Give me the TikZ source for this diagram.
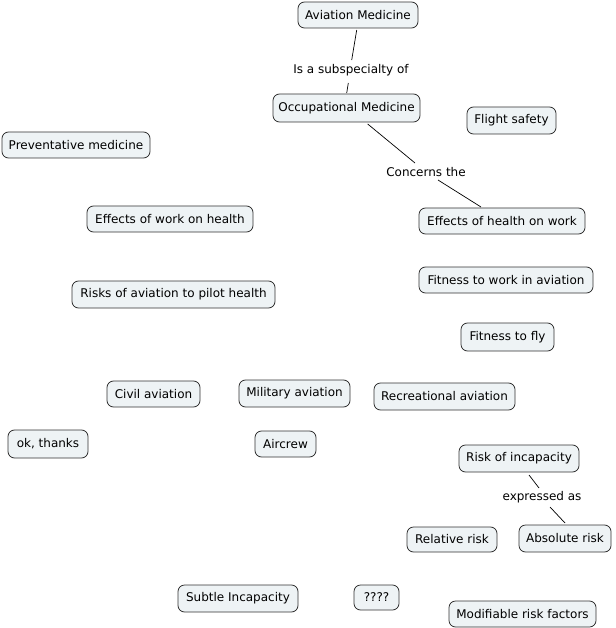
\documentclass[tikz,border=0pt]{standalone}
\usepackage{fontspec}
\setmainfont{DejaVu Sans}
\usetikzlibrary{calc}
\definecolor{boxfill}{RGB}{238,243,245}
\definecolor{boxline}{RGB}{50,50,50}
\tikzset{
  concept/.style={draw=boxline, fill=boxfill, line width=0.8pt, rounded corners=6.5pt,
    inner sep=0pt, align=center, font=\fontsize{12}{14}\selectfont},
  linklabel/.style={inner sep=0pt, font=\fontsize{12}{14}\selectfont},
  link/.style={draw=black, line width=0.7pt}
}
\newcommand{\cbox}[6]{\node[concept, minimum width=#4pt, minimum height=#5pt] (#1) at (#2,#3) {#6};}
\begin{document}
\begin{tikzpicture}[x=1pt,y=-1pt]
\useasboundingbox (0,0) rectangle (615,628);
\cbox{av}{358}{15}{120}{26}{Aviation Medicine}
\cbox{occ}{346.5}{108}{147}{28}{Occupational Medicine}
\cbox{fs}{511.5}{120.5}{89}{27}{Flight safety}
\cbox{prev}{76}{145}{148}{26}{Preventative medicine}
\cbox{ewh}{170}{219}{166}{26}{Effects of work on health}
\cbox{ehw}{502}{221}{166}{26}{Effects of health on work}
\cbox{risks}{173.5}{294.5}{203}{27}{Risks of aviation to pilot health}
\cbox{fwa}{506}{280}{174}{26}{Fitness to work in aviation}
\cbox{ftf}{507.5}{337}{93}{28}{Fitness to fly}
\cbox{civ}{153.5}{394}{93}{26}{Civil aviation}
\cbox{mil}{294.5}{393.5}{111}{27}{Military aviation}
\cbox{rec}{444.5}{396.5}{141}{27}{Recreational aviation}
\cbox{ok}{48}{444}{80}{28}{ok, thanks}
\cbox{air}{285.5}{444}{61}{26}{Aircrew}
\cbox{roi}{519}{458.5}{120}{27}{Risk of incapacity}
\cbox{rel}{452}{539.5}{90}{25}{Relative risk}
\cbox{abs}{565}{538.5}{92}{27}{Absolute risk}
\cbox{sub}{238}{598.5}{120}{27}{Subtle Incapacity}
\cbox{q}{376.5}{597.5}{45}{25}{????}
\cbox{mod}{522.5}{614}{147}{26}{Modifiable risk factors}

\node[linklabel] (l1) at (351,70) {Is a subspecialty of};
\node[linklabel] (l2) at (426,172) {Concerns the};
\node[linklabel] (l3) at (542,497) {expressed as};

\draw[link] ($(av)+(-1.3,15)$) -- ($(l1)+(0.7,-10)$);
\draw[link] ($(l1)+(-2.7,13)$) -- ($(occ)+(0.2,-15)$);
\draw[link] ($(occ)+(21.2,16)$) -- ($(l2)+(-11,-9)$);
\draw[link] ($(l2)+(12,8)$) -- ($(ehw)+(-21,-14)$);
\draw[link] ($(roi)+(10,16.5)$) -- ($(l3)+(-3,-9)$);
\draw[link] ($(l3)+(8,10)$) -- ($(abs)+(0,-15.5)$);
\end{tikzpicture}
\end{document}
